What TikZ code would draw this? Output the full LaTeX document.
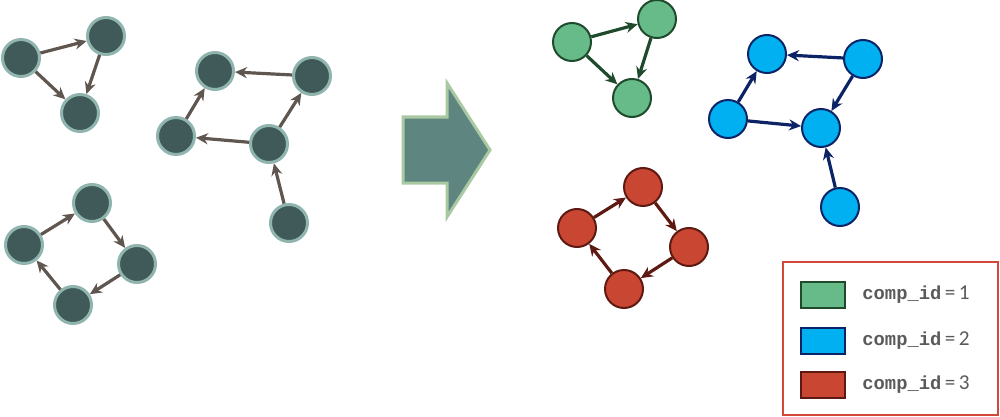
\documentclass[tikz,border=0pt]{standalone}
\usepackage{fontspec}
\setmainfont{Carlito}
\newfontfamily\compmono{Liberation Mono}
\usetikzlibrary{arrows.meta,positioning}
\definecolor{grayfill}{HTML}{405A5A}
\definecolor{grayline}{HTML}{90B4AE}
\definecolor{grayedge}{HTML}{5F5650}
\definecolor{greenfill}{HTML}{66BB88}
\definecolor{greenline}{HTML}{1F4B2C}
\definecolor{bluefill}{HTML}{00B0F0}
\definecolor{blueline}{HTML}{0C2466}
\definecolor{redfill}{HTML}{C94632}
\definecolor{redline}{HTML}{5E1A12}
\definecolor{arrowfill}{HTML}{5F8580}
\definecolor{arrowline}{HTML}{A9C9A2}
\definecolor{legendline}{HTML}{D2493A}
\definecolor{legendtext}{HTML}{5A5A5A}
\tikzset{
  vtx/.style={circle, inner sep=0pt, minimum size=18.5pt},
  grayvtx/.style={vtx, fill=grayfill, draw=grayline, line width=1.5pt},
  colvtx/.style={vtx, minimum size=19pt, line width=1pt},
  greenvtx/.style={colvtx, fill=greenfill, draw=greenline},
  bluevtx/.style={colvtx, fill=bluefill, draw=blueline},
  redvtx/.style={colvtx, fill=redfill, draw=redline},
  edg/.style={line width=1.6pt, -{Stealth[length=6pt,width=5.5pt]}},
  swatch/.style={rectangle, minimum width=22pt, minimum height=13pt, line width=1pt},
  legtext/.style={right=8pt of #1, inner sep=0pt, text=legendtext, font=\fontsize{10.6}{12}\selectfont}
}
\begin{document}
\begin{tikzpicture}[x=0.5pt,y=-0.5pt]
\useasboundingbox (0,0) rectangle (1000,417);
\node[grayvtx] (a1) at (21,58){};
\node[grayvtx] (a2) at (106,36){};
\node[grayvtx] (a3) at (80,113){};
\draw[edg, grayedge](a1) -- (a2);
\draw[edg, grayedge](a1) -- (a3);
\draw[edg, grayedge](a2) -- (a3);
\node[grayvtx] (b1) at (215,71){};
\node[grayvtx] (b2) at (312,76){};
\node[grayvtx] (b3) at (176,136){};
\node[grayvtx] (b4) at (269,144){};
\node[grayvtx] (b5) at (289,223){};
\draw[edg, grayedge](b2) -- (b1);
\draw[edg, grayedge](b3) -- (b1);
\draw[edg, grayedge](b4) -- (b3);
\draw[edg, grayedge](b4) -- (b2);
\draw[edg, grayedge](b5) -- (b4);
\node[grayvtx] (c1) at (92,203){};
\node[grayvtx] (c2) at (24,245){};
\node[grayvtx] (c3) at (137,264){};
\node[grayvtx] (c4) at (73,305){};
\draw[edg, grayedge](c2) -- (c1);
\draw[edg, grayedge](c1) -- (c3);
\draw[edg, grayedge](c3) -- (c4);
\draw[edg, grayedge](c4) -- (c2);
\draw[fill=arrowfill, draw=arrowline, line width=1.5pt, line join=miter]
  (403,117) -- (447,117) -- (447,83) -- (490,150) -- (447,217) -- (447,183) -- (403,183) -- cycle;
\node[greenvtx] (g1) at (572,42){};
\node[greenvtx] (g2) at (657,19){};
\node[greenvtx] (g3) at (632,98){};
\draw[edg, greenline](g1) -- (g2);
\draw[edg, greenline](g1) -- (g3);
\draw[edg, greenline](g2) -- (g3);
\node[bluevtx] (u1) at (767,54){};
\node[bluevtx] (u2) at (863,59){};
\node[bluevtx] (u3) at (728,119){};
\node[bluevtx] (u4) at (821,128){};
\node[bluevtx] (u5) at (840,207){};
\draw[edg, blueline](u2) -- (u1);
\draw[edg, blueline](u3) -- (u1);
\draw[edg, blueline](u3) -- (u4);
\draw[edg, blueline](u2) -- (u4);
\draw[edg, blueline](u5) -- (u4);
\node[redvtx] (r1) at (643,187){};
\node[redvtx] (r2) at (577,228){};
\node[redvtx] (r3) at (689,247){};
\node[redvtx] (r4) at (624,289){};
\draw[edg, redline](r2) -- (r1);
\draw[edg, redline](r1) -- (r3);
\draw[edg, redline](r3) -- (r4);
\draw[edg, redline](r4) -- (r2);
\draw[legendline, line width=0.8pt] (783,262) rectangle (998,415);
\node[swatch, fill=greenfill, draw=greenline] (sw1) at (823,295){};
\node[swatch, fill=bluefill, draw=blueline] (sw2) at (823,341){};
\node[swatch, fill=redfill, draw=redline] (sw3) at (823,385){};
\node[legtext=sw1] (lab1) {{\compmono\bfseries\fontsize{9.4}{12}\selectfont comp\_id}\,=\,1};
\node[legtext=sw2] (lab2) {{\compmono\bfseries\fontsize{9.4}{12}\selectfont comp\_id}\,=\,2};
\node[legtext=sw3] (lab3) {{\compmono\bfseries\fontsize{9.4}{12}\selectfont comp\_id}\,=\,3};
\end{tikzpicture}
\end{document}
